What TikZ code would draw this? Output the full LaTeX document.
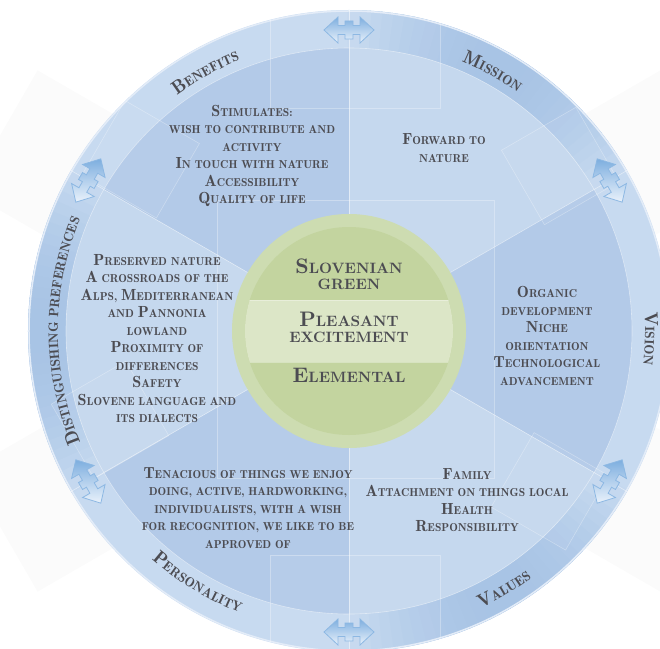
\documentclass[tikz,border=0pt]{standalone}
\usepackage{fontspec}
\usetikzlibrary{decorations.text}
\newfontfamily\demi{lmromandemi10-regular.otf}
\newfontfamily\demibig[Scale=1.4]{lmromandemi10-regular.otf}
\newfontfamily\heavy{lmroman10-bold.otf}
\newfontfamily\heavybig[Scale=1.4]{lmroman10-bold.otf}
\newcommand\B[1]{{\demibig #1}}
\newcommand\HB[1]{{\heavybig #1}}
\definecolor{txt}{HTML}{4C4C52}
\definecolor{secdark}{HTML}{B3CAE8}
\definecolor{seclight}{HTML}{C5D8EE}
\definecolor{banddark}{HTML}{A8C4E5}
\definecolor{bandlight}{HTML}{C7DAF0}
\definecolor{greenrim}{HTML}{CDDCB1}
\definecolor{greendisc}{HTML}{C3D49F}
\definecolor{greenstrip}{HTML}{DCE6C7}
\definecolor{arrowdark}{HTML}{7DAEDF}
\definecolor{arrowlight}{HTML}{EAF2FB}
\definecolor{arrowedge}{HTML}{8DB8E3}
\newcommand\bandsmall{\demi\fontsize{13.5pt}{13.5pt}\selectfont\color{txt}}
\newcommand\bandbig{\demibig\fontsize{13.5pt}{13.5pt}\selectfont\color{txt}}
\tikzset{
  sectortext/.style={font=\demi\fontsize{11.5pt}{17.5pt}\selectfont, text=txt, align=center, inner sep=0pt},
  centertext/.style={font=\heavy\fontsize{15pt}{16pt}\selectfont, text=txt, align=center, inner sep=0pt},
  tile/.style={draw=white, draw opacity=0.3, fill=white, fill opacity=0.05, line width=0.6pt},
  swaparrow/.pic={
    \shade[top color=arrowdark, bottom color=arrowlight, draw=arrowedge, line width=0.8pt]
      (-25,0) -- (-11,13) -- (-11,4.5) -- (-4,4.5) -- (-4,9) -- (4,9) -- (4,4.5)
      -- (11,4.5) -- (11,13) -- (25,0) -- (11,-13) -- (11,-4.5) -- (4,-4.5)
      -- (4,-9) -- (-4,-9) -- (-4,-4.5) -- (-11,-4.5) -- (-11,-13) -- cycle;
  }
}
\begin{document}
\begin{tikzpicture}[x=1pt, y=1pt]
  \useasboundingbox (-349,-317) rectangle (311,331);
  \clip (-349,-317) rectangle (311,331);
  % faint squares behind the wheel
  \foreach \a in {30,150,-30,-150}{
    \begin{scope}[shift={(\a:330pt)}, rotate=\a]
      \fill[black!1.5] (-70,-70) rectangle (70,70);
    \end{scope}
  }
  % outer band
  \fill[bandlight] (0,0) circle[radius=321pt];
  \foreach \c in {60,-60,180}{
    \foreach \d in {-30,-28,...,28}{
      \pgfmathtruncatemacro\m{100*(abs(\d+1)/30)^2}
      \fill[bandlight!\m!banddark] ({\c+\d}:283pt) arc[start angle=\c+\d, end angle=\c+\d+2.3, radius=283pt]
        -- ({\c+\d+2.3}:321pt) arc[start angle=\c+\d+2.3, end angle=\c+\d, radius=321pt] -- cycle;
    }
  }
  \draw[bandlight!50!white, line width=1.5pt] (0,0) circle[radius=320pt];
  % sectors
  \foreach \a/\col in {90/secdark, 30/seclight, -30/secdark, -90/seclight, -150/secdark, 150/seclight}
    \fill[\col] (0,0) -- (\a:283pt) arc[start angle=\a, end angle=\a+60, radius=283pt] -- cycle;
  \draw[white, opacity=0.45, line width=0.6pt] (0,0) circle[radius=283pt];
  % tiles
  \begin{scope}
    \clip (0,0) circle[radius=321pt];
    \path[tile] (-132,131) rectangle (145,-147);
    \path[tile] (-79,223) rectangle (91,340);
    \path[tile] (-79,-224) rectangle (91,-340);
    \foreach \p/\r/\t in {140.5/270/150, 38/268/30, -38.6/257/-30, -159.6/255/-150}{
      \begin{scope}[shift={(\p:\r pt)}, rotate=\t]
        \path[tile] (-43,-43) rectangle (43,43);
      \end{scope}
    }
  \end{scope}
  \foreach \a in {30,90,...,330}
    \draw[white, opacity=0.5, line width=0.6pt] (\a:117pt) -- (\a:321pt);
  % green core
  \fill[greenrim] (0,0) circle[radius=117pt];
  \fill[greendisc] (0,0) circle[radius=104pt];
  \begin{scope}
    \clip (0,0) circle[radius=104pt];
    \fill[greenstrip] (-110,-31) rectangle (110,31);
    \draw[white, opacity=0.35] (-110,31) -- (110,31) (-110,-31) -- (110,-31);
  \end{scope}
  \node[centertext] (green) at (0,56.5) {\HB{S}LOVENIAN\\GREEN};
  \node[centertext] (pleasant) at (0,4) {\HB{P}LEASANT\\EXCITEMENT};
  \node[centertext] (elemental) at (0,-44.5) {\HB{E}LEMENTAL};
  % sector texts
  \node[sectortext] (benefits) at (-97,175) {\B{S}TIMULATES:\\WISH TO CONTRIBUTE AND\\ACTIVITY\\\B{I}N TOUCH WITH NATURE\\\B{A}CCESSIBILITY\\\B{Q}UALITY OF LIFE};
  \node[sectortext] (mission) at (95,183) {\B{F}ORWARD TO\\NATURE};
  \node[sectortext] (vision) at (198,-5) {\B{O}RGANIC\\DEVELOPMENT\\\B{N}ICHE\\ORIENTATION\\\B{T}ECHNOLOGICAL\\ADVANCEMENT};
  \node[sectortext] (values) at (118,-169) {\B{F}AMILY\\\B{A}TTACHMENT ON THINGS LOCAL\\\B{H}EALTH\\\B{R}ESPONSIBILITY};
  \node[sectortext] (personality) at (-101,-177) {\B{T}ENACIOUS OF THINGS WE ENJOY\\DOING, ACTIVE, HARDWORKING,\\INDIVIDUALISTS, WITH A WISH\\FOR RECOGNITION, WE LIKE TO BE\\APPROVED OF};
  \node[sectortext] (prefs) at (-192,-7.5) {\B{P}RESERVED NATURE\\\B{A} CROSSROADS OF THE\\\B{A}LPS, \B{M}EDITERRANEAN\\AND \B{P}ANNONIA\\LOWLAND\\\B{P}ROXIMITY OF\\DIFFERENCES\\\B{S}AFETY\\\B{S}LOVENE LANGUAGE AND\\ITS DIALECTS};
  % arrows on the band
  \foreach \a in {90,30,-30,-90,-150,150}
    \pic[rotate=\a-90] at (\a:301pt) {swaparrow};
  % band labels
  \path[decorate, decoration={text along path, text={|\bandbig|B|\bandsmall|ENEFITS}, text align=center}]
    (179:292pt) arc[start angle=179, end angle=59, radius=292pt];
  \path[decorate, decoration={text along path, text={|\bandbig|M|\bandsmall|ISSION}, text align=center}]
    (121:292pt) arc[start angle=121, end angle=1, radius=292pt];
  \path[decorate, decoration={text along path, text={|\bandbig|V|\bandsmall|ISION}, text align=center}]
    (58.5:296pt) arc[start angle=58.5, end angle=-61.5, radius=296pt];
  \path[decorate, decoration={text along path, text={|\bandbig|V|\bandsmall|ALUES}, text align=center}]
    (-119:307pt) arc[start angle=-119, end angle=1, radius=307pt];
  \path[decorate, decoration={text along path, text={|\bandbig|P|\bandsmall|ERSONALITY}, text align=center}]
    (-181:302pt) arc[start angle=-181, end angle=-61, radius=302pt];
  \path[decorate, decoration={text along path, text={|\bandbig|D|\bandsmall|ISTINGUISHING PREFERENCES}, text align=center}]
    (245:291pt) arc[start angle=245, end angle=115, radius=291pt];
\end{tikzpicture}
\end{document}
